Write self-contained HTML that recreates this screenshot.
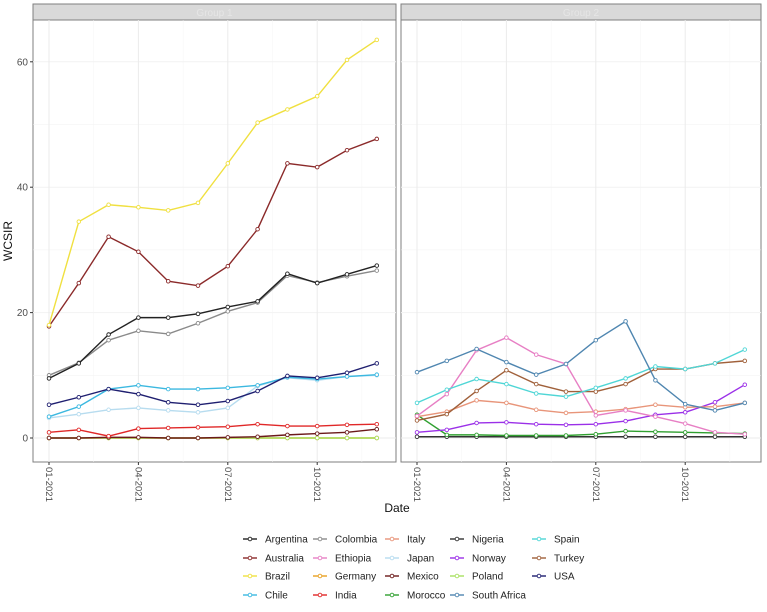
<!DOCTYPE html>
<html><head><meta charset="utf-8"><style>
body{margin:0;background:#fff;font-family:"Liberation Sans",sans-serif}
svg text{font-family:"Liberation Sans",sans-serif}
</style></head><body>
<svg id="chart" width="767" height="607"></svg>
<script>
const months = ["01","02","03","04","05","06","07","08","09","10","11","12"];
const yTicks = [0,20,40,60];
const xTickLabels = ["01-2021","04-2021","07-2021","10-2021"];
const xTickIdx = [0,3,6,9];
const colors = {Argentina:"#222222",Colombia:"#8a8a8a",Italy:"#e8957a",Nigeria:"#333333",Spain:"#4fd6d6",
Australia:"#8b2a2a",Ethiopia:"#e77fc4",Japan:"#b7dcef",Norway:"#9b30e8",Turkey:"#a0603a",
Brazil:"#f0e040",Germany:"#e8a020",Mexico:"#6b1a1a",Poland:"#a8e060",USA:"#1f1f70",
Chile:"#3bb8e0",India:"#e02828",Morocco:"#30a030","South Africa":"#4f86b0"};
const legendOrder = [["Argentina","Australia","Brazil","Chile"],["Colombia","Ethiopia","Germany","India"],["Italy","Japan","Mexico","Morocco"],["Nigeria","Norway","Poland","South Africa"],["Spain","Turkey","USA"]];
// Panel 1
const brazil = [18,34.5,37.2,36.8,36.3,37.5,43.8,50.3,52.4,54.5,60.3,63.5];
const australia = [17.8,24.7,32.1,29.7,25,24.3,27.4,33.3,43.8,43.2,45.9,47.7];
const argentina = [9.5,11.9,16.5,19.2,19.2,19.8,20.9,21.8,26.2,24.7,26.1,27.5];
const colombia = [10,12,15.6,17.1,16.6,18.3,20.2,21.6,25.9,24.8,25.8,26.7];
const usa = [5.3,6.5,7.8,7,5.7,5.3,5.9,7.5,9.9,9.6,10.4,11.9];
const chile = [3.4,5,7.8,8.4,7.8,7.8,8,8.4,9.7,9.4,9.8,10.1];
const japan = [3.2,3.8,4.5,4.8,4.4,4.1,4.8,8.3,9.6,9.2,9.8,10];
const india = [0.9,1.3,0.3,1.5,1.6,1.7,1.8,2.2,1.9,1.9,2.1,2.2];
const mexico = [0,0,0.1,0.1,0,0,0.1,0.2,0.5,0.7,0.9,1.4];
const germany = [0,0,0,0,0,0,0,0,0,0,0,0];
const poland = [0,0,0,0,0,0,0,0,0,0,0,0];
// Panel 2
const southAfrica = [10.5,12.3,14.2,12.1,10.1,11.8,15.6,18.6,9.2,5.4,4.4,5.6];
const spain = [5.6,7.7,9.4,8.6,7.1,6.6,8.0,9.5,11.4,11.0,11.9,14.1];
const ethiopia = [3.5,7,14,16,13.3,11.8,3.6,4.4,3.4,2.3,0.9,0.6];
const turkey = [2.8,3.8,7.5,10.8,8.6,7.4,7.4,8.6,11.0,11.0,11.9,12.3];
const italy = [3.4,4.2,6,5.6,4.5,4.0,4.2,4.6,5.3,4.9,5.0,5.6];
const norway = [0.9,1.3,2.4,2.5,2.2,2.1,2.2,2.7,3.7,4.1,5.7,8.5];
const morocco = [3.7,0.5,0.5,0.4,0.4,0.4,0.6,1.1,1.0,0.9,0.8,0.7];
const nigeria = [0.2,0.2,0.2,0.2,0.2,0.2,0.2,0.2,0.2,0.2,0.2,0.2];

const panels = [
 {x0:33,x1:396,first:49,name:"panel-1",label:"Group 1",series:[["Germany",germany],["Poland",poland],["Mexico",mexico],["India",india],["Japan",japan],["Chile",chile],["USA",usa],["Colombia",colombia],["Argentina",argentina],["Australia",australia],["Brazil",brazil]]},
 {x0:401,x1:761,first:417,name:"panel-2",label:"Group 2",series:[["Nigeria",nigeria],["Morocco",morocco],["Norway",norway],["Italy",italy],["Ethiopia",ethiopia],["Turkey",turkey],["Spain",spain],["South Africa",southAfrica]]}
];
const NS="http://www.w3.org/2000/svg";
const svg=document.getElementById('chart');
function mk(t,a,p){const e=document.createElementNS(NS,t);for(const k in a)e.setAttribute(k,a[k]);(p||svg).appendChild(e);return e;}
const yTop=20,yBot=462;
const yScale=v=>438-v*6.27;
const step=29.8;
panels.forEach(p=>{
 const xs=i=>p.first+i*step;
 const g=mk('g',{});
 
 
 const strip=mk('rect',{x:p.x0,y:4,width:p.x1-p.x0,height:16,fill:'#d9d9d9',stroke:'#7f7f7f','stroke-width':1},g);
 
 
 const st=mk('text',{x:(p.x0+p.x1)/2,y:16,'text-anchor':'middle','font-size':10,fill:'#e6e6e6'},g);st.textContent=p.label;
 
 
 mk('rect',{x:p.x0,y:yTop,width:p.x1-p.x0,height:yBot-yTop,fill:'#fff',stroke:'#7f7f7f','stroke-width':1},g);
 for(let v=10;v<=60;v+=10){mk('line',{x1:p.x0,x2:p.x1,y1:yScale(v),y2:yScale(v),stroke:'#f2f2f2','stroke-width':v%20?0.5:1},g);}
 mk('line',{x1:p.x0,x2:p.x1,y1:yScale(0),y2:yScale(0),stroke:'#ebebeb','stroke-width':1},g);
 for(let i=0;i<12;i+=1.5){mk('line',{x1:xs(i),x2:xs(i),y1:yTop,y2:yBot,stroke:Number.isInteger(i/3)?'#ebebeb':'#f4f4f4','stroke-width':Number.isInteger(i/3)?1:0.5},g);}
 xTickIdx.forEach((ti,k)=>{
  mk('line',{x1:xs(ti),x2:xs(ti),y1:yBot,y2:yBot+3,stroke:'#333'},g);
  const t=mk('text',{transform:`translate(${xs(ti)-3},${yBot+5}) rotate(90)`,'font-size':9.5,fill:'#4d4d4d'},g);
  t.textContent=xTickLabels[k];
  
  
 });
 p.series.forEach(([nm,vals])=>{
  const pts=vals.map((v,i)=>xs(i)+','+yScale(v)).join(' ');
  const l=mk('polyline',{points:pts,fill:'none',stroke:colors[nm],'stroke-width':1.4},g);
  
  
  vals.forEach((v,i)=>{
   const c=mk('circle',{cx:xs(i),cy:yScale(v),r:1.8,fill:'#fff',stroke:colors[nm],'stroke-width':0.9},g);
   
   
  });
 });
});
yTicks.forEach(v=>{
 mk('line',{x1:30,x2:33,y1:yScale(v),y2:yScale(v),stroke:'#333'});
 const t=mk('text',{x:28,y:yScale(v)+3.5,'text-anchor':'end','font-size':10,fill:'#4d4d4d'});
 t.textContent=v;
 
 
});
const yt=mk('text',{transform:'translate(12,241) rotate(-90)','text-anchor':'middle','font-size':12,fill:'#111'});
yt.textContent='WCSIR';


const xt=mk('text',{x:397,y:512,'text-anchor':'middle','font-size':12,fill:'#111'});
xt.textContent='Date';


const colX=[243,313,385,450,532];
const rowY=[539,558,576,595];
const lg=mk('g',{});


legendOrder.forEach((col,ci)=>col.forEach((nm,ri)=>{
 const e=mk('g',{},lg);
 
 
 mk('line',{x1:colX[ci],x2:colX[ci]+14,y1:rowY[ri],y2:rowY[ri],stroke:colors[nm],'stroke-width':1.4},e);
 mk('circle',{cx:colX[ci]+7,cy:rowY[ri],r:1.8,fill:'#fff',stroke:colors[nm],'stroke-width':0.9},e);
 const t=mk('text',{x:colX[ci]+22,y:rowY[ri]+3.5,'font-size':10,fill:'#222'},e);
 t.textContent=nm;
}));
</script>
</body></html>
